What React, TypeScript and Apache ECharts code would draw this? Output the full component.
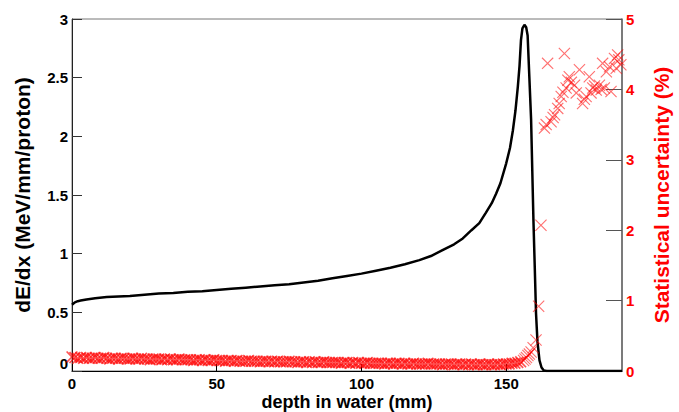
import React, { useEffect, useRef } from "react";
import * as echarts from "echarts";

// Black dE/dx curve: [depth (mm), dE/dx (MeV/mm/proton)]
const dedxDepth = [0, 0.5, 1, 2, 3, 5, 8, 12, 16, 20, 25, 30, 35, 40, 45, 50, 55, 60, 65, 70, 75, 80, 85, 90, 95, 100, 105, 110, 115, 120, 124, 128, 132, 135, 138, 140.7, 143, 145, 146.5, 148, 150, 151.3, 152.3, 153.2, 154, 154.6, 155.1, 155.6, 156.3, 156.9, 157.4, 158, 158.6, 159.4, 159.9, 160.3, 160.8, 161.5, 162.2, 163, 164, 190];
const dedxValues = [0.565, 0.575, 0.585, 0.595, 0.6, 0.61, 0.62, 0.63, 0.635, 0.64, 0.65, 0.66, 0.665, 0.675, 0.68, 0.69, 0.7, 0.71, 0.72, 0.73, 0.74, 0.755, 0.77, 0.79, 0.81, 0.83, 0.855, 0.88, 0.91, 0.945, 0.98, 1.03, 1.08, 1.13, 1.2, 1.26, 1.35, 1.43, 1.51, 1.6, 1.77, 1.9, 2.05, 2.22, 2.42, 2.6, 2.82, 2.92, 2.95, 2.93, 2.86, 2.5, 2.14, 1.29, 0.85, 0.49, 0.25, 0.09, 0.03, 0.005, 0, 0];

// Statistical uncertainty (%) in the plateau, one value per mm from 0 to 155 mm
const uncPlateau = [
  0.2, 0.19, 0.18, 0.19, 0.18, 0.19, 0.18, 0.18, 0.19, 0.18,
  0.18, 0.19, 0.18, 0.17, 0.18, 0.18, 0.17, 0.18, 0.18, 0.17,
  0.17, 0.18, 0.17, 0.17, 0.18, 0.17, 0.17, 0.16, 0.17, 0.17,
  0.17, 0.16, 0.17, 0.16, 0.17, 0.16, 0.16, 0.17, 0.16, 0.16,
  0.16, 0.16, 0.15, 0.16, 0.16, 0.15, 0.16, 0.15, 0.15, 0.16,
  0.15, 0.15, 0.15, 0.14, 0.15, 0.15, 0.14, 0.15, 0.14, 0.14,
  0.14, 0.15, 0.14, 0.14, 0.14, 0.13, 0.14, 0.14, 0.13, 0.14,
  0.13, 0.14, 0.13, 0.13, 0.13, 0.14, 0.13, 0.13, 0.12, 0.13,
  0.13, 0.12, 0.13, 0.12, 0.13, 0.12, 0.12, 0.13, 0.12, 0.12,
  0.12, 0.12, 0.12, 0.11, 0.12, 0.12, 0.11, 0.12, 0.11, 0.12,
  0.11, 0.11, 0.12, 0.11, 0.11, 0.11, 0.11, 0.11, 0.1, 0.11,
  0.11, 0.1, 0.11, 0.11, 0.1, 0.11, 0.1, 0.1, 0.11, 0.1,
  0.1, 0.1, 0.1, 0.11, 0.1, 0.1, 0.1, 0.1, 0.09, 0.1,
  0.1, 0.1, 0.09, 0.1, 0.1, 0.09, 0.1, 0.09, 0.1, 0.09,
  0.09, 0.1, 0.09, 0.09, 0.1, 0.09, 0.09, 0.1, 0.09, 0.1,
  0.1, 0.1, 0.11, 0.11, 0.12, 0.13,
];

// Statistical uncertainty (%) beyond the plateau: depths and values
const uncTailDepth = [156, 156.5, 157, 157.5, 158, 158.6, 159.3, 160.3, 161.2, 162.0, 163.2, 163.8, 164.3, 165.5, 166.2, 166.7, 167.8, 168.3, 169.0, 169.6, 170.1, 170.7, 171.3, 171.8, 172.5, 173.6, 174.2, 175.3, 176.4, 177.0, 177.6, 178.7, 179.3, 179.9, 180.5, 181.1, 182.2, 182.8, 183.3, 183.9, 184.6, 185.7, 186.2, 187.4, 188.0, 188.5, 188.9, 189.6];
const uncTailValues = [0.15, 0.17, 0.19, 0.22, 0.24, 0.27, 0.33, 0.44, 0.92, 2.07, 3.45, 3.5, 4.37, 3.54, 3.6, 3.64, 3.73, 3.8, 3.9, 3.96, 4.51, 4.02, 4.13, 4.18, 4.1, 4.06, 3.95, 4.28, 3.8, 3.86, 3.9, 4.18, 3.95, 4.02, 4.05, 3.99, 4.06, 4.0, 4.37, 4.02, 4.25, 4.32, 3.97, 4.44, 4.3, 4.49, 4.42, 4.35];

const xTitle = "depth in water (mm)";
const yLeftTitle = "dE/dx (MeV/mm/proton)";
const yRightTitle = "Statistical uncertainty (%)";

const FONT = "'Liberation Sans', Arial, Helvetica, sans-serif";
const CROSS_BOLD =
  "path://M0,1.2L1.2,0L6,4.8L10.8,0L12,1.2L7.2,6L12,10.8L10.8,12L6,7.2L1.2,12L0,10.8L4.8,6Z";
const CROSS =
  "path://M0,0.8L0.8,0L6,5.2L11.2,0L12,0.8L6.8,6L12,11.2L11.2,12L6,6.8L0.8,12L0,11.2L5.2,6Z";

export default function App() {
  const ref = useRef<HTMLDivElement>(null);
  useEffect(() => {
    if (!ref.current) return;
    const chart = echarts.init(ref.current, undefined, { renderer: "svg" });
    const curve = dedxDepth.map((d, i) => [d, dedxValues[i]]);
    const plateau = uncPlateau.map((v, i) => [i, v]);
    const tail = uncTailDepth.map((d, i) => [d, uncTailValues[i]]);
    const labelFont = { fontFamily: FONT, fontWeight: "bold", fontSize: 15 };
    chart.setOption({
      animation: false,
      backgroundColor: "#ffffff",
      grid: {
        left: 72,
        right: 57,
        top: 19,
        bottom: 41,
        show: true,
        borderColor: "#777",
        borderWidth: 1,
        containLabel: false,
        outerBoundsMode: "none",
      },
      xAxis: {
        type: "value",
        min: 0,
        max: 190,
        interval: 50,
        name: xTitle,
        nameLocation: "middle",
        nameGap: 22,
        nameMoveOverlap: false,
        nameTextStyle: { fontFamily: FONT, fontWeight: "bold", fontSize: 18, color: "#000", lineHeight: 18 },
        axisLine: { show: true, onZero: false, lineStyle: { color: "#000", width: 1 } },
        axisTick: { show: true, inside: true, length: 7, lineStyle: { color: "#000" } },
        axisLabel: { ...labelFont, lineHeight: 15, color: "#000", margin: 5, showMaxLabel: false },
        splitLine: { show: false },
      },
      yAxis: [
        {
          type: "value",
          min: 0,
          max: 3,
          interval: 0.5,
          position: "left",
          name: yLeftTitle,
          nameLocation: "middle",
          nameGap: 39,
          nameRotate: 90,
          nameMoveOverlap: false,
          nameTextStyle: { fontFamily: FONT, fontWeight: "bold", fontSize: 21, color: "#000" },
          axisLine: { show: true, lineStyle: { color: "#222", width: 1 } },
          axisTick: { show: true, inside: true, length: 10, lineStyle: { color: "#333" } },
          axisLabel: {
            ...labelFont,
            color: "#000",
            margin: 4,
            formatter: (v: number) => (v === 0 ? "{z|0}" : String(v)),
            rich: { z: { ...labelFont, color: "#000", padding: [0, 0, 16, 0] } },
          },
          splitLine: { show: false },
        },
        {
          type: "value",
          min: 0,
          max: 5,
          interval: 1,
          position: "right",
          name: yRightTitle,
          nameLocation: "middle",
          nameGap: 29,
          nameRotate: 90,
          nameMoveOverlap: false,
          nameTextStyle: { fontFamily: FONT, fontWeight: "bold", fontSize: 21, color: "#ff0000" },
          axisLine: { show: true, lineStyle: { color: "#666", width: 1.5 } },
          axisTick: { show: true, inside: true, length: 16, lineStyle: { color: "#555" } },
          axisLabel: { ...labelFont, color: "#ff0000", margin: 4 },
          splitLine: { show: false },
        },
      ],
      series: [
        {
          type: "line",
          data: curve,
          yAxisIndex: 0,
          showSymbol: false,
          symbol: "none",
          lineStyle: { color: "#000", width: 2.5 },
          z: 2,
        },
        {
          type: "scatter",
          data: plateau,
          yAxisIndex: 1,
          symbol: CROSS_BOLD,
          symbolSize: 12,
          itemStyle: { color: "rgba(255,0,0,0.85)" },
          z: 3,
        },
        {
          type: "scatter",
          data: tail,
          yAxisIndex: 1,
          symbol: CROSS,
          symbolSize: 12,
          itemStyle: { color: "rgba(255,0,0,0.7)" },
          z: 3,
        },
      ],
    });
    return () => chart.dispose();
  }, []);
  return <div ref={ref} style={{ width: 679, height: 412, position: "absolute", left: 0, top: 0 }} />;
}
